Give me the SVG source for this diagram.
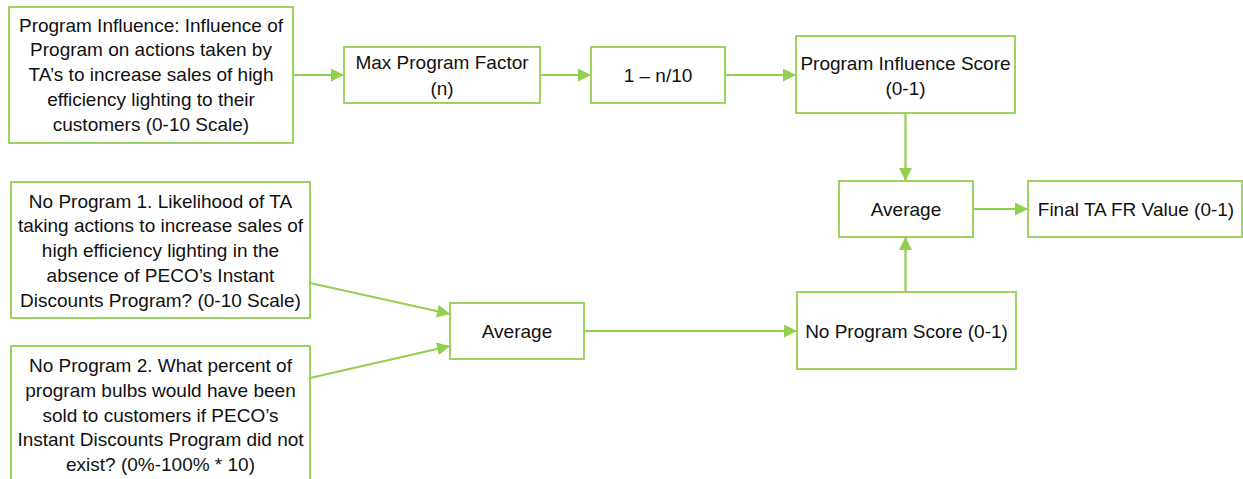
<svg xmlns="http://www.w3.org/2000/svg" width="1243" height="479" viewBox="0 0 1243 479">
  <style>
    .box { fill: #ffffff; stroke: #92D050; stroke-width: 1.8; }
    .lbl { font-family: "Liberation Sans", Arial, sans-serif; font-size: 19px; fill: #111111; text-anchor: middle; }
    .conn { stroke: #92D050; stroke-width: 2.2; fill: none; }
  </style>
  <defs>
    <marker id="arrow" markerUnits="userSpaceOnUse" markerWidth="13" markerHeight="13" refX="13" refY="6.5" orient="auto">
      <path d="M0,0 L13,6.5 L0,13 z" fill="#92D050"/>
    </marker>
  </defs>
  <rect width="1243" height="479" fill="#ffffff"/>

  <g id="connectors">
    <line class="conn" x1="293" y1="75" x2="344" y2="75" marker-end="url(#arrow)"/>
    <line class="conn" x1="540" y1="75" x2="591" y2="75" marker-end="url(#arrow)"/>
    <line class="conn" x1="725" y1="75" x2="796" y2="75" marker-end="url(#arrow)"/>
    <line class="conn" x1="905.5" y1="114" x2="905.5" y2="181" marker-end="url(#arrow)"/>
    <line class="conn" x1="973" y1="209" x2="1028" y2="209" marker-end="url(#arrow)"/>
    <line class="conn" x1="905.5" y1="292" x2="905.5" y2="237" marker-end="url(#arrow)"/>
    <line class="conn" x1="584" y1="331" x2="797" y2="331" marker-end="url(#arrow)"/>
    <line class="conn" x1="310" y1="283" x2="450" y2="314" marker-end="url(#arrow)"/>
    <line class="conn" x1="310" y1="378" x2="450" y2="346" marker-end="url(#arrow)"/>
  </g>

  <g id="program-influence">
    <rect class="box" x="9" y="7" width="284" height="136"/>
    <text class="lbl" x="151" y="31.5">Program Influence: Influence of</text>
    <text class="lbl" x="151" y="56">Program on actions taken by</text>
    <text class="lbl" x="151" y="81">TA’s to increase sales of high</text>
    <text class="lbl" x="151" y="105.5">efficiency lighting to their</text>
    <text class="lbl" x="151" y="130.5">customers (0-10 Scale)</text>
  </g>

  <g id="max-program-factor">
    <rect class="box" x="344" y="47" width="196" height="56"/>
    <text class="lbl" x="442" y="69">Max Program Factor</text>
    <text class="lbl" x="442" y="95">(n)</text>
  </g>

  <g id="one-minus">
    <rect class="box" x="591" y="47" width="134" height="56"/>
    <text class="lbl" x="658" y="81.5">1 – n/10</text>
  </g>

  <g id="program-influence-score">
    <rect class="box" x="796" y="36" width="219" height="77"/>
    <text class="lbl" x="905.5" y="70">Program Influence Score</text>
    <text class="lbl" x="905.5" y="95">(0-1)</text>
  </g>

  <g id="average-final">
    <rect class="box" x="839" y="181" width="134" height="56"/>
    <text class="lbl" x="906" y="215.5">Average</text>
  </g>

  <g id="final-value">
    <rect class="box" x="1028" y="181" width="214" height="56"/>
    <text class="lbl" x="1136" y="215.5">Final TA FR Value (0-1)</text>
  </g>

  <g id="no-program-1">
    <rect class="box" x="11" y="182" width="299" height="136"/>
    <text class="lbl" x="160.5" y="207.5">No Program 1. Likelihood of TA</text>
    <text class="lbl" x="160.5" y="232">taking actions to increase sales of</text>
    <text class="lbl" x="160.5" y="256.5">high efficiency lighting in the</text>
    <text class="lbl" x="160.5" y="281.5">absence of PECO’s Instant</text>
    <text class="lbl" x="160.5" y="306.5">Discounts Program? (0-10 Scale)</text>
  </g>

  <g id="no-program-2">
    <rect class="box" x="11" y="346" width="299" height="140"/>
    <text class="lbl" x="160.5" y="372">No Program 2. What percent of</text>
    <text class="lbl" x="160.5" y="397">program bulbs would have been</text>
    <text class="lbl" x="160.5" y="421.5">sold to customers if PECO’s</text>
    <text class="lbl" x="160.5" y="446">Instant Discounts Program did not</text>
    <text class="lbl" x="160.5" y="471">exist? (0%-100% * 10)</text>
  </g>

  <g id="average-no-program">
    <rect class="box" x="450" y="303" width="134" height="56"/>
    <text class="lbl" x="517" y="338">Average</text>
  </g>

  <g id="no-program-score">
    <rect class="box" x="797" y="292" width="219" height="77"/>
    <text class="lbl" x="906.5" y="338">No Program Score (0-1)</text>
  </g>
</svg>
